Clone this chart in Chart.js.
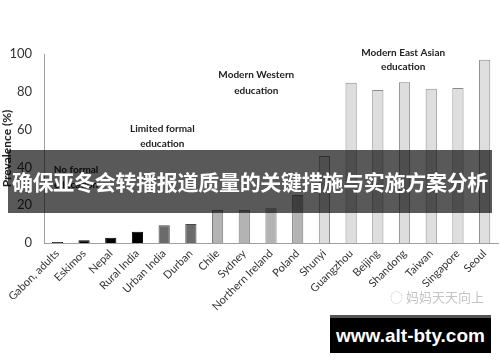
<!DOCTYPE html>
<html>
<head>
<meta charset="utf-8">
<script src="https://cdn.jsdelivr.net/npm/chart.js@4"></script>
<style>
    html, body { margin: 0; padding: 0; background: #fff; }
    #wrap { position: relative; width: 500px; height: 362px; overflow: hidden; }
    #banner {
        position: absolute; left: 8px; top: 150px; width: 484px; height: 63px;
        background: rgba(0, 0, 0, 0.65); color: #fff;
        font: bold 21px "Noto Sans CJK SC", sans-serif;
        line-height: 63px; text-align: center; white-space: nowrap; letter-spacing: -0.3px;
    }
    #site {
        position: absolute; left: 330px; top: 315px; width: 161px; height: 35px;
        background: #000; border-top: 3px solid #555; color: #fff;
        font: bold 19px "Liberation Sans", sans-serif; line-height: 35px; text-align: center;
    }
    #mark {
        position: absolute; left: 390px; top: 287px; color: #c4c4c4;
        font: 13px "Noto Sans CJK SC", sans-serif; white-space: nowrap;
    }
</style>
</head>
<body>
<div id="wrap">
    <canvas id="chart" width="500" height="362"></canvas>
    <div id="banner">确保亚冬会转播报道质量的关键措施与实施方案分析</div>
    <div id="mark">◌ 妈妈天天向上</div>
    <div id="site">www.alt-bty.com</div>
</div>
<script>
// data
const places = ['Gabon, adults', 'Eskimos', 'Nepal', 'Rural India', 'Urban India', 'Durban',
    'Chile', 'Sydney', 'Northern Ireland', 'Poland', 'Shunyi', 'Guangzhou', 'Beijing',
    'Shandong', 'Taiwan', 'Singapore', 'Seoul'];
const prevalence = [0.5, 1.5, 2.8, 6, 9.4, 10, 17.5, 17.5, 18.4, 25.4, 46, 84.8, 81, 85, 81.6, 82, 97];
// education group of each place: 0 none, 1 limited, 2 western, 3 east asian
const groupOf = [0, 0, 0, 0, 1, 1, 2, 2, 2, 2, 3, 3, 3, 3, 3, 3, 3];
const yTicks = [0, 20, 40, 60, 80, 100];

const fills = ['#000000', '#6b6b6b', '#b3b3b3', '#dedede'];
const borders = ['#000000', '#4a4a4a', '#7a7a7a', '#8a8a8a'];

// group captions, anchored in data units (category index, value)
const captions = [
    { lines: ['No formal', 'education'], x: 0.7, y: [38.6, 30.8] },
    { lines: ['Limited formal', 'education'], x: 3.93, y: [60.3, 52.6] },
    { lines: ['Modern Western', 'education'], x: 7.45, y: [88.9, 80.6] },
    { lines: ['Modern East Asian', 'education'], x: 12.95, y: [100.5, 93.3] }
];

const captionPlugin = {
    id: 'captions',
    afterDatasetsDraw(chart) {
        const { ctx, scales } = chart;
        ctx.save();
        ctx.font = 'bold 10px Lato, sans-serif';
        ctx.fillStyle = '#222';
        ctx.textAlign = 'center';
        ctx.textBaseline = 'middle';
        captions.forEach(c => {
            const px = scales.x.getPixelForValue(c.x);
            c.lines.forEach((line, i) => {
                ctx.fillText(line, px, scales.y.getPixelForValue(c.y[i]));
            });
        });
        ctx.restore();
    }
};

new Chart(document.getElementById('chart'), {
    type: 'bar',
    data: {
        labels: places,
        datasets: [{
            data: prevalence,
            backgroundColor: groupOf.map(g => fills[g]),
            borderColor: groupOf.map(g => borders[g]),
            borderWidth: 1,
            barPercentage: 0.84,
            categoryPercentage: 0.5
        }]
    },
    options: {
        responsive: false,
        animation: false,
        layout: { padding: { top: 54, right: 2, left: 0, bottom: 0 } },
        plugins: { legend: { display: false }, tooltip: { enabled: false } },
        scales: {
            x: {
                grid: { display: false, drawTicks: false },
                border: { display: true, color: '#a0a0a0', width: 1 },
                ticks: {
                    maxRotation: 45, minRotation: 45, autoSkip: false, padding: 4,
                    color: '#333', font: { family: 'Lato', size: 11 }
                },
                afterFit: s => { s.height = 119; }
            },
            y: {
                min: 0, max: 100,
                afterBuildTicks: s => { s.ticks = yTicks.map(v => ({ value: v })); },
                grid: { display: false, drawTicks: false },
                border: { display: true, color: '#a0a0a0', width: 1 },
                ticks: { padding: 12, color: '#333', font: { family: 'Lato', size: 13 } },
                title: {
                    display: true, text: 'Prevalence (%)', color: '#222',
                    font: { family: 'Lato', size: 12, weight: 'bold' }, padding: 0
                },
                afterFit: s => { s.width = 44; }
            }
        }
    },
    plugins: [captionPlugin]
});
</script>
</body>
</html>
